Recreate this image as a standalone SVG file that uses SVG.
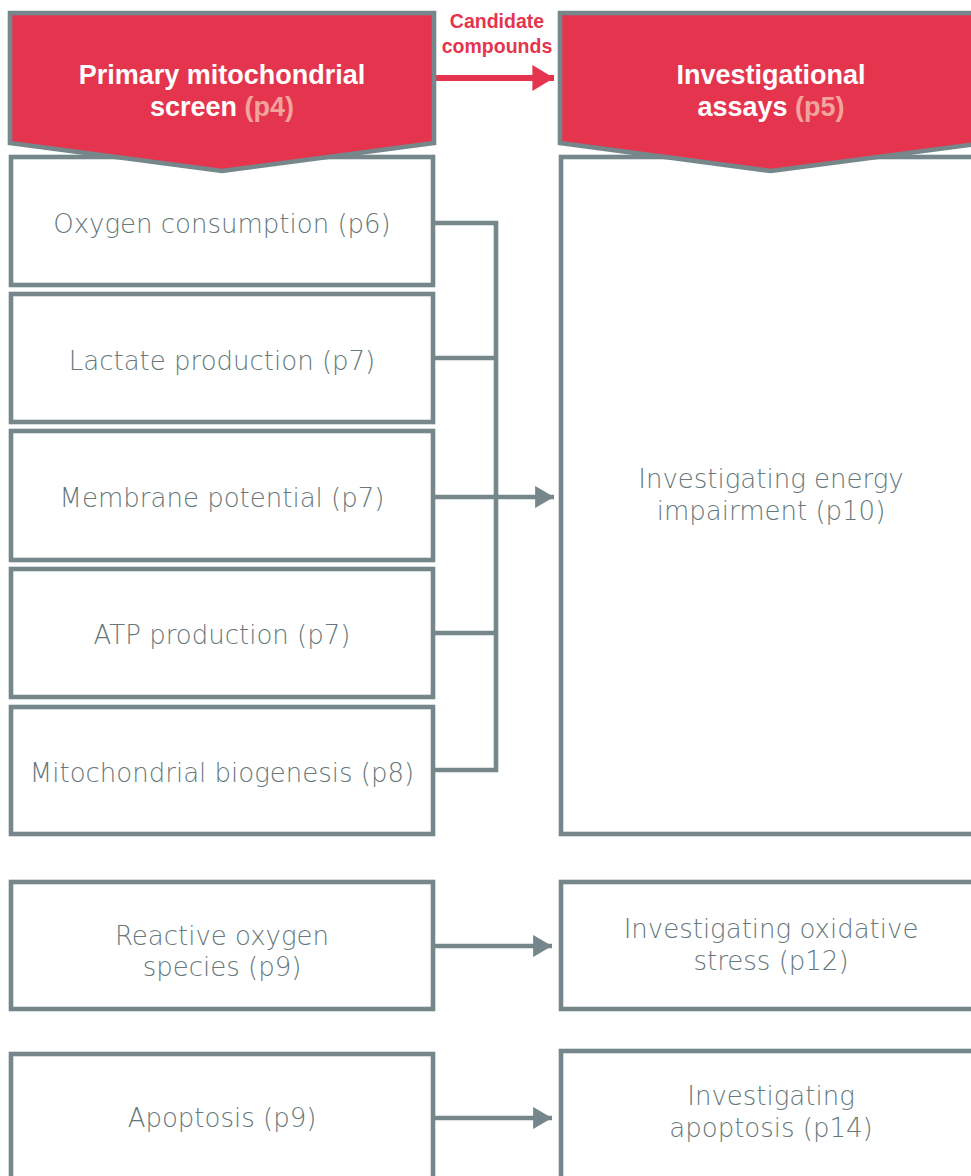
<svg xmlns="http://www.w3.org/2000/svg" width="971" height="1176" viewBox="0 0 971 1176">
<style>
.box{fill:#fff;stroke:#75878a;stroke-width:4.6}
.hdr{fill:#e5354e;stroke:#75878a;stroke-width:4.6;stroke-linejoin:miter}
.t{font-family:"DejaVu Sans","Liberation Sans",sans-serif;font-weight:200;font-size:26px;fill:#66787b;text-anchor:middle}
.h{font-family:"Liberation Sans",Arial,sans-serif;font-size:27px;font-weight:bold;fill:#fff;text-anchor:middle}
.pg{fill:#f2a39c}
.c{fill:none;stroke:#75878a;stroke-width:4.6}
.lbl{font-family:"Liberation Sans",Arial,sans-serif;font-size:19.5px;font-weight:bold;fill:#e5354e;text-anchor:middle}
</style>
<defs>
<marker id="ag" markerWidth="4.1" markerHeight="4.8" refX="4.1" refY="2.4" orient="auto" markerUnits="strokeWidth"><path d="M0,0 L4.1,2.4 L0,4.8 Z" fill="#75878a"/></marker>
<marker id="ar" markerWidth="3.6" markerHeight="4.3" refX="3.6" refY="2.15" orient="auto" markerUnits="strokeWidth"><path d="M0,0 L3.6,2.15 L0,4.3 Z" fill="#e5354e"/></marker>
</defs>
<g id="connectors">
<path class="c" d="M433,223 H496 V770 H433 M433,358 H496 M433,633 H496"/>
<path class="c" d="M433,497 H554" marker-end="url(#ag)"/>
<path class="c" d="M433,946 H552" marker-end="url(#ag)"/>
<path class="c" d="M433,1118 H552" marker-end="url(#ag)"/>
<path d="M434,78 H554" fill="none" stroke="#e5354e" stroke-width="6" marker-end="url(#ar)"/>
<text class="lbl" x="497" y="28">Candidate</text>
<text class="lbl" x="497" y="53">compounds</text>
</g>
<g id="n-oxygen"><rect class="box" x="11" y="157" width="422" height="128"/><text class="t" x="222" y="233">Oxygen consumption (p6)</text></g>
<g id="n-lactate"><rect class="box" x="11" y="294" width="422" height="128"/><text class="t" x="222" y="370">Lactate production (p7)</text></g>
<g id="n-membrane"><rect class="box" x="11" y="431" width="422" height="129"/><text class="t" x="222" y="507">Membrane potential (p7)</text></g>
<g id="n-atp"><rect class="box" x="11" y="569" width="422" height="128"/><text class="t" x="222" y="644">ATP production (p7)</text></g>
<g id="n-biogenesis"><rect class="box" x="11" y="707" width="422" height="127"/><text class="t" x="222" y="782">Mitochondrial biogenesis (p8)</text></g>
<g id="n-energy"><rect class="box" x="561" y="157" width="416" height="677"/><text class="t" x="771" y="488">Investigating energy</text><text class="t" x="771" y="520">impairment (p10)</text></g>
<g id="n-ros"><rect class="box" x="11" y="882" width="422" height="127"/><text class="t" x="222" y="945">Reactive oxygen</text><text class="t" x="222" y="976">species (p9)</text></g>
<g id="n-oxidative"><rect class="box" x="561" y="882" width="416" height="127"/><text class="t" x="771" y="938">Investigating oxidative</text><text class="t" x="771" y="970">stress (p12)</text></g>
<g id="n-apoptosis"><rect class="box" x="11" y="1054" width="422" height="140"/><text class="t" x="222" y="1127">Apoptosis (p9)</text></g>
<g id="n-invapoptosis"><rect class="box" x="561" y="1051" width="416" height="140"/><text class="t" x="771" y="1105">Investigating</text><text class="t" x="771" y="1137">apoptosis (p14)</text></g>
<g id="n-primary"><path class="hdr" d="M10,13 H434 V143 L222,171 L10,143 Z"/><text class="h" x="222" y="84">Primary mitochondrial</text><text class="h" x="222" y="116">screen <tspan class="pg">(p4)</tspan></text></g>
<g id="n-investigational"><path class="hdr" d="M560,13 H984 V143 L771,171 L560,143 Z"/><text class="h" x="771" y="84">Investigational</text><text class="h" x="771" y="116">assays <tspan class="pg">(p5)</tspan></text></g>
</svg>
